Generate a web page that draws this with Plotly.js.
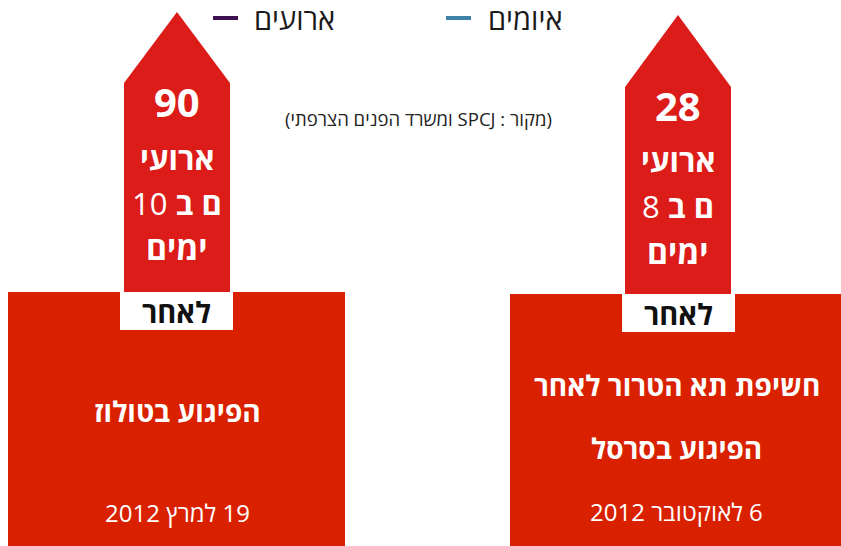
<!DOCTYPE html>
<html>
<head>
<meta charset="utf-8">
<script src="https://cdn.plot.ly/plotly-3.0.1.min.js"></script>
<style>
html,body{margin:0;padding:0;background:#fff;}
.annotation-text{direction:rtl;unicode-bidi:embed;}
</style>
</head>
<body>
<div id="chart" style="width:841px;height:546px;"></div>
<script>
// ---- data ----
const seriesNames = ['ארועים', 'איומים'];
const seriesColors = ['#3e1150', '#3f82a7'];
const eventCounts = [90, 28];
const dayCounts = [10, 8];
const unitLines = ['ארועי', 'ם ב', 'ימים'];
const afterLabel = 'לאחר';
const triggerLabels = [['הפיגוע בטולוז'], ['חשיפת תא הטרור לאחר', 'הפיגוע בסרסל']];
const dateLabels = ['19 למרץ 2012', '6 לאוקטובר 2012'];
const sourceNote = '(מקור : SPCJ ומשרד הפנים הצרפתי)';

// ---- layout geometry (pixel space of the canvas) ----
const W = 841, H = 546;
const panels = [
  {cx: 177, arrowL: 124, arrowR: 230, tip: 12, shoulder: 83, boxL: 8, boxR: 345, boxTop: 292,
   labL: 120, labR: 233, labH: 38, numY: 101, unitY: [158, 203, 247], trigY: [411], dateY: 512},
  {cx: 678, arrowL: 625, arrowR: 731, tip: 15, shoulder: 87, boxL: 510, boxR: 841, boxTop: 294,
   labL: 622, labR: 735, labH: 38, numY: 105, unitY: [160, 206, 251], trigY: [385, 448], dateY: 511}
];
const legendPos = [{x0: 213, x1: 238, tx: 252, y: 18}, {x0: 446, x1: 471, tx: 486, y: 18}];
const arrowRed = '#db1c19';
const boxRed = '#d92100';
const FONT = '"Open Sans", "Noto Sans", "DejaVu Sans", sans-serif';

const shapes = [];
const annotations = [];
panels.forEach((p, i) => {
  shapes.push({type: 'path', xref: 'x', yref: 'y', layer: 'above',
    path: `M${p.arrowL},${p.boxTop + 2} L${p.arrowL},${p.shoulder} L${p.cx},${p.tip} L${p.arrowR},${p.shoulder} L${p.arrowR},${p.boxTop + 2} Z`,
    fillcolor: arrowRed, line: {width: 0}});
  shapes.push({type: 'rect', xref: 'x', yref: 'y', layer: 'above',
    x0: p.boxL, x1: p.boxR, y0: p.boxTop, y1: H, fillcolor: boxRed, line: {width: 0}});
  shapes.push({type: 'rect', xref: 'x', yref: 'y', layer: 'above',
    x0: p.labL, x1: p.labR, y0: p.boxTop, y1: p.boxTop + p.labH, fillcolor: '#ffffff', line: {width: 0}});

  const ann = (text, y, size, color, x) => annotations.push({
    xref: 'x', yref: 'y', x: x === undefined ? p.cx : x, y: y, text: text, showarrow: false,
    xanchor: 'center', yanchor: 'middle', font: {family: FONT, size: size, color: color}
  });
  ann('<b>' + eventCounts[i] + '</b>', p.numY, 40, '#ffffff');
  ann('<b>' + unitLines[0] + '</b>', p.unitY[0], 31, '#ffffff');
  ann('<b>' + unitLines[1] + '</b> ' + dayCounts[i], p.unitY[1], 31, '#ffffff');
  ann('<b>' + unitLines[2] + '</b>', p.unitY[2], 32, '#ffffff');
  ann('<b>' + afterLabel + '</b>', p.boxTop + p.labH / 2, 29, '#111111', (p.labL + p.labR) / 2);
  triggerLabels[i].forEach((t, k) => ann('<b>' + t + '</b>', p.trigY[k], 28, '#ffffff', (p.boxL + p.boxR) / 2 + 1));
  ann(dateLabels[i], p.dateY, 24, '#ffffff', (p.boxL + p.boxR) / 2 + 1);
});
annotations.push({xref: 'x', yref: 'y', x: 418, y: 118, text: sourceNote, showarrow: false,
  xanchor: 'center', yanchor: 'middle', font: {family: FONT, size: 18.5, color: '#222222'}});

// legend (drawn as line keys + labels)
seriesNames.forEach((n, i) => {
  const L = legendPos[i];
  shapes.push({type: 'line', xref: 'x', yref: 'y', x0: L.x0, x1: L.x1, y0: L.y, y1: L.y,
    line: {color: seriesColors[i], width: 4}});
  annotations.push({xref: 'x', yref: 'y', x: L.tx, y: L.y, text: n, showarrow: false,
    xanchor: 'left', yanchor: 'middle', font: {family: FONT, size: 29, color: '#1a1a1a'}});
});

const traces = seriesNames.map((n, i) => ({
  type: 'scatter', mode: 'lines', name: n, x: [], y: [], showlegend: false,
  line: {color: seriesColors[i], width: 4}, hoverinfo: 'skip'
}));

const layout = {
  width: W, height: H,
  margin: {l: 0, r: 0, t: 0, b: 0, pad: 0},
  paper_bgcolor: '#ffffff', plot_bgcolor: '#ffffff',
  xaxis: {range: [0, W], visible: false, fixedrange: true},
  yaxis: {range: [H, 0], visible: false, fixedrange: true},
  showlegend: false,
  shapes: shapes,
  annotations: annotations
};

Plotly.newPlot('chart', traces, layout, {staticPlot: true, displayModeBar: false});
</script>
</body>
</html>
